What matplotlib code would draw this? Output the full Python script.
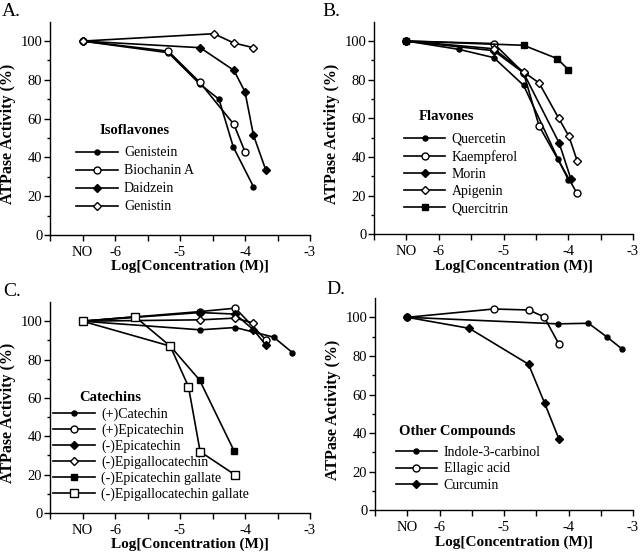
import matplotlib
matplotlib.use("Agg")
import matplotlib.pyplot as plt
from matplotlib.ticker import FixedLocator, MultipleLocator

plt.rcParams['font.family'] = ['Liberation Serif', 'DejaVu Serif']
plt.rcParams['axes.unicode_minus'] = False

# ---------------- data ----------------
xtick_pos = [-6.5, -6, -5, -4, -3]
xtick_labels = ["NO", "-6", "-5", "-4", "-3"]

# Panel A: Isoflavones
genistein_x = [-6.5, -5.18, -4.70, -4.40, -4.18, -3.87]
genistein_y = [100, 94, 78, 70, 45.4, 24.9]
biochanin_x = [-6.5, -5.18, -4.70, -4.17, -4.0]
biochanin_y = [100, 94.8, 78.9, 57, 42.9]
daidzein_x = [-6.5, -4.69, -4.17, -4.0, -3.87, -3.68]
daidzein_y = [100, 96.6, 84.9, 73.8, 51.5, 33.5]
genistin_x = [-6.5, -4.48, -4.17, -3.87]
genistin_y = [100, 103.8, 99, 96.6]

# Panel B: Flavones
quercetin_x = [-6.5, -5.69, -5.15, -4.69, -4.16, -4.0]
quercetin_y = [100, 95.7, 91.4, 77.1, 39.1, 28.3]
kaempferol_x = [-6.5, -5.15, -4.69, -4.45, -3.87]
kaempferol_y = [100, 98.7, 83.5, 56, 21.5]
morin_x = [-6.5, -5.15, -4.69, -4.14, -3.96]
morin_y = [100, 95, 83.5, 47.2, 28.7]
apigenin_x = [-6.5, -5.15, -4.69, -4.45, -4.15, -3.99, -3.86]
apigenin_y = [100, 96, 84, 78.3, 60.2, 50.7, 37.8]
quercitrin_x = [-6.5, -4.69, -4.17, -4.0]
quercitrin_y = [100, 97.8, 90.9, 85.2]

# Panel C: Catechins
catechin_x = [-6.5, -4.69, -4.15, -3.56, -3.27]
catechin_y = [100, 95.5, 96.7, 91.7, 83.6]
p_epicatechin_x = [-6.5, -4.69, -4.15, -3.68]
p_epicatechin_y = [100, 105, 106.8, 90.3]
m_epicatechin_x = [-6.5, -4.69, -4.15, -3.87, -3.68]
m_epicatechin_y = [100, 104.5, 103.7, 95.5, 87.6]
epigallocatechin_x = [-6.5, -4.69, -4.15, -3.87]
epigallocatechin_y = [100, 100.7, 101.6, 99]
ecg_x = [-6.5, -5.15, -4.70, -4.17]
ecg_y = [100, 87, 69.4, 32.5]
egcg_x = [-6.5, -5.69, -5.15, -4.87, -4.69, -4.15]
egcg_y = [100, 102.3, 87, 65.9, 32, 19.8]

# Panel D: Other compounds
indole_x = [-6.5, -4.17, -3.69, -3.40, -3.17]
indole_y = [100, 96.6, 96.9, 89.7, 83.6]
ellagic_x = [-6.5, -5.16, -4.62, -4.38, -4.15]
ellagic_y = [100, 104.3, 103.8, 100.3, 86.2]
curcumin_x = [-6.5, -5.54, -4.62, -4.37, -4.15]
curcumin_y = [100, 94.3, 75.7, 55.5, 37.1]

# ---------------- styles ----------------
S_FCIRC = dict(marker='o', ms=3.6, mfc='black', mec='black')
S_OCIRC = dict(marker='o', ms=5.0, mfc='white', mec='black', mew=1.0)
S_FDIAM = dict(marker='D', ms=3.8, mfc='black', mec='black')
S_ODIAM = dict(marker='D', ms=3.8, mfc='white', mec='black', mew=1.0)
S_FSQ = dict(marker='s', ms=4.2, mfc='black', mec='black')
S_OSQ = dict(marker='s', ms=5.2, mfc='white', mec='black', mew=1.0)

W, H = 640, 556
fig = plt.figure(figsize=(W / 100, H / 100), dpi=100)

def px_axes(left, top, right, bottom):
    return fig.add_axes([left / W, (H - bottom) / H, (right - left) / W, (bottom - top) / H])

panels = [
    dict(rect=(50, 21.7, 310, 235), letter="A.", lpos=(2, 12), title="Isoflavones",
         tpos=(0.192, 0.488), legpos=(0.10, 0.415), lspace=0.36,
         series=[(genistein_x, genistein_y, S_FCIRC, "Genistein"),
                 (biochanin_x, biochanin_y, S_OCIRC, "Biochanin A"),
                 (daidzein_x, daidzein_y, S_FDIAM, "Daidzein"),
                 (genistin_x, genistin_y, S_ODIAM, "Genistin")]),
    dict(rect=(374, 21.7, 633, 234.3), letter="B.", lpos=(322, 12), title="Flavones",
         tpos=(0.173, 0.556), legpos=(0.115, 0.478), lspace=0.30,
         series=[(quercetin_x, quercetin_y, S_FCIRC, "Quercetin"),
                 (kaempferol_x, kaempferol_y, S_OCIRC, "Kaempferol"),
                 (morin_x, morin_y, S_FDIAM, "Morin"),
                 (apigenin_x, apigenin_y, S_ODIAM, "Apigenin"),
                 (quercitrin_x, quercitrin_y, S_FSQ, "Quercitrin")]),
    dict(rect=(50, 302, 310, 513), letter="C.", lpos=(3, 291), title="Catechins",
         tpos=(0.1115, 0.548), legpos=(0.0115, 0.498), lspace=0.18,
         series=[(catechin_x, catechin_y, S_FCIRC, "(+)Catechin"),
                 (p_epicatechin_x, p_epicatechin_y, S_OCIRC, "(+)Epicatechin"),
                 (m_epicatechin_x, m_epicatechin_y, S_FDIAM, "(-)Epicatechin"),
                 (epigallocatechin_x, epigallocatechin_y, S_ODIAM, "(-)Epigallocatechin"),
                 (ecg_x, ecg_y, S_FSQ, "(-)Epicatechin gallate"),
                 (egcg_x, egcg_y, S_OSQ, "(-)Epigallocatechin gallate")]),
    dict(rect=(375, 298, 633, 510.3), letter="D.", lpos=(326, 290), title="Other Compounds",
         tpos=(0.092, 0.369), legpos=(0.08, 0.303), lspace=0.25,
         series=[(indole_x, indole_y, S_FCIRC, "Indole-3-carbinol"),
                 (ellagic_x, ellagic_y, S_OCIRC, "Ellagic acid"),
                 (curcumin_x, curcumin_y, S_FDIAM, "Curcumin")]),
]

for p in panels:
    ax = px_axes(*p['rect'])
    for xs, ys, st, lab in p['series']:
        ax.plot(xs, ys, color='black', lw=1.2, label=lab, **st)
    ax.set_xlim(-7, -3)
    ax.set_ylim(0, 110)
    for s in ('top', 'right'):
        ax.spines[s].set_visible(False)
    for s in ('left', 'bottom'):
        ax.spines[s].set_linewidth(1.0)
    ax.xaxis.set_major_locator(FixedLocator(xtick_pos))
    ax.set_xticklabels(xtick_labels)
    ax.xaxis.set_minor_locator(FixedLocator([-7, -5.5, -4.5, -3.5]))
    ax.yaxis.set_major_locator(MultipleLocator(20))
    ax.yaxis.set_minor_locator(FixedLocator([10, 30, 50, 70, 90]))
    ax.tick_params(axis='x', which='both', direction='out', length=4, width=1.0,
                   pad=4.0, labelsize=10.5)
    ax.tick_params(axis='y', which='major', direction='out', length=4, width=1.0,
                   pad=1.5, labelsize=10.5)
    ax.tick_params(axis='y', which='minor', direction='out', length=2.5, width=1.0)
    ax.set_ylabel("ATPase Activity (%)", fontsize=11.5, fontweight='bold')
    ax.set_xlabel("Log[Concentration (M)]", fontsize=11, fontweight='bold')
    ax.yaxis.set_label_coords(-0.13, 0.474)
    ax.xaxis.set_label_coords(0.54, -0.117)
    ax.text(p['tpos'][0], p['tpos'][1], p['title'], transform=ax.transAxes,
            fontsize=10.5, fontweight='bold', ha='left', va='center')
    ax.legend(loc='upper left', bbox_to_anchor=p['legpos'], frameon=False,
              fontsize=10, handlelength=3.0, handletextpad=0.45,
              labelspacing=p['lspace'], borderpad=0, borderaxespad=0)
    fig.text(p['lpos'][0] / W, 1 - p['lpos'][1] / H, p['letter'], fontsize=14,
             ha='left', va='center')

fig.savefig("out.png", dpi=100)
